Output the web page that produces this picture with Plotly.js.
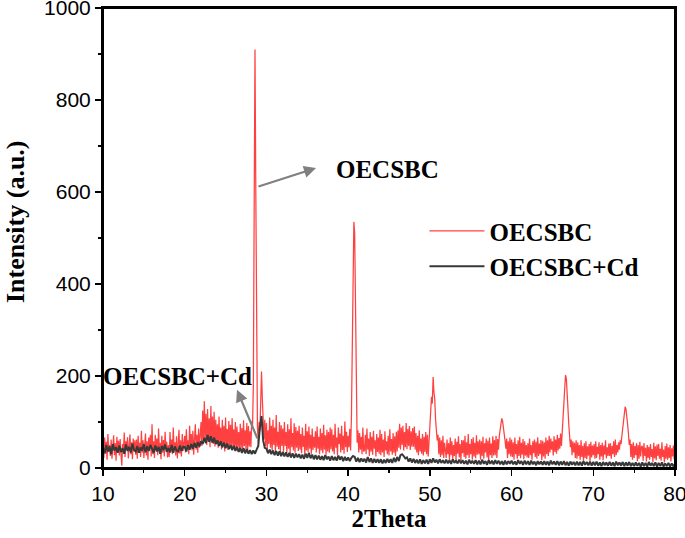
<!DOCTYPE html>
<html>
<head>
<meta charset="utf-8">
<script src="https://cdn.plot.ly/plotly-3.0.1.min.js"></script>
<style>html,body{margin:0;padding:0;background:#fff;}#chart{width:685px;height:538px;}</style>
</head>
<body>
<div id="chart"></div>
<script>
// 2Theta grids
const redStep = 0.1, redCount = 701;
const blackStep = 0.2, blackCount = 351;
const twoThetaRed = Array.from({length: redCount}, (_, i) => +(10 + redStep * i).toFixed(1));
const twoThetaBlack = Array.from({length: blackCount}, (_, i) => +(10 + blackStep * i).toFixed(1));

// OECSBC intensity (step 0.1, one row = 2 degrees)
const oecsbc = [
  48,22,66,31,57,18,74,35,50,26,62,20,45,71,28,54,16,68,38,59,
  27,63,30,5,52,34,77,24,58,40,67,21,49,73,30,56,19,64,36,60,
  29,62,20,70,38,55,24,81,33,60,22,51,75,27,58,18,66,41,72,25,
  95,30,58,22,72,40,64,28,86,36,55,19,70,33,61,25,79,42,57,23,
  50,24,78,34,62,30,88,40,56,27,69,21,53,83,31,60,25,74,37,65,
  70,34,84,42,60,30,92,46,74,38,81,29,66,95,40,72,33,86,44,77,
  100,48,125,55,145,62,118,50,128,57,108,45,135,60,112,52,122,47,105,58,
  95,44,112,52,88,40,105,48,92,36,110,46,85,39,102,50,94,42,108,45,
  84,42,100,38,90,46,78,35,96,44,87,37,104,48,82,40,98,36,91,47,
  80,45,102,90,180,560,910,600,210,90,55,100,80,140,210,150,95,62,105,48,
  98,40,82,52,110,44,92,38,105,50,88,36,115,46,79,41,100,35,93,48,
  86,36,100,48,78,34,95,42,84,30,108,45,76,38,97,33,89,44,81,37,
  92,40,74,32,88,46,70,28,96,38,80,35,90,42,72,31,86,39,68,44,
  80,34,90,42,68,30,86,38,76,32,94,40,71,29,83,36,78,33,88,41,
  84,36,72,30,96,44,66,28,88,52,75,34,92,39,70,31,101,45,79,35,
  70,45,85,38,110,260,470,535,510,300,120,55,82,34,76,40,68,30,88,37,
  38,72,30,86,40,64,26,78,36,68,29,81,42,60,25,74,35,66,31,83,
  28,74,34,62,24,80,38,58,30,70,27,84,36,63,29,76,33,69,26,79,
  36,82,44,96,40,88,50,92,38,78,45,98,41,85,48,91,39,80,46,87,
  46,90,40,76,34,70,28,82,36,64,31,74,27,68,35,78,30,72,25,66,
  80,110,155,140,198,165,150,105,88,60,72,30,66,24,60,28,70,22,55,31,
  22,62,30,54,18,66,28,58,20,50,26,64,19,57,31,69,23,52,17,61,
  32,60,24,70,20,56,28,74,22,52,30,63,18,67,25,55,21,71,29,58,
  30,62,18,58,26,68,20,54,34,64,23,59,17,66,28,53,22,69,27,61,
  28,70,22,63,40,70,85,98,108,102,90,75,60,42,64,22,58,30,66,25,
  62,24,56,18,66,30,52,20,60,26,68,21,55,29,63,19,58,27,50,23,
  54,22,64,28,50,18,58,32,62,24,57,20,67,26,53,30,61,17,59,25,
  56,20,66,30,60,26,70,34,64,40,58,27,69,35,62,31,72,38,65,42,
  75,48,80,110,150,185,202,195,170,130,95,70,45,62,28,58,34,55,22,60,
  20,56,26,50,18,60,24,48,16,54,22,58,19,47,27,52,15,57,23,49,
  28,52,20,58,22,46,30,56,18,50,25,55,17,49,29,60,21,45,26,53,
  26,54,20,48,30,58,24,62,28,50,34,56,40,60,52,70,85,105,120,133,
  128,115,95,75,50,62,24,52,18,56,22,48,28,54,15,50,20,57,25,46,
  48,16,54,26,44,14,50,22,46,18,52,24,41,13,55,21,47,17,51,26,
  52,20,42,16,56,24,40,12,48,20,53,18,45,22,50,14,43,25,49,19,
  44
];

// OECSBC+Cd intensity (step 0.2, one row = 2 degrees)
const oecsbcCd = [
  44,32,50,36,47,30,52,38,45,33,
  49,35,43,31,51,37,46,34,53,39,
  36,48,33,45,38,52,34,47,37,50,
  42,33,49,36,46,31,48,39,51,35,
  44,34,50,33,47,38,36,49,37,46,
  46,36,50,40,52,42,55,44,56,47,
  58,52,66,54,72,57,69,55,66,52,
  60,48,58,45,55,43,53,41,50,39,
  48,37,46,35,44,33,43,32,41,31,
  39,30,38,31,40,48,88,113,60,44,
  42,32,40,30,38,28,37,27,36,26,
  35,25,34,24,33,23,32,22,31,23,
  30,21,29,20,31,22,33,21,29,19,
  28,19,27,18,26,17,28,19,25,16,
  26,17,24,16,27,18,25,15,24,16,
  23,15,22,26,24,14,22,13,21,14,
  20,12,24,13,21,11,20,12,19,11,
  19,10,18,11,20,12,19,11,22,13,
  24,15,28,30,26,21,23,14,21,12,
  20,11,18,10,19,9,17,10,18,9,
  19,11,21,12,18,10,19,11,17,10,
  18,10,17,9,19,11,16,10,18,10,
  17,9,16,8,18,10,16,9,17,8,
  16,8,18,9,15,7,17,9,16,8,
  17,9,16,8,15,7,16,8,15,9,
  16,8,14,7,17,9,15,7,16,8,
  15,7,16,8,14,6,15,8,14,7,
  15,7,14,6,16,8,14,7,15,6,
  14,7,15,6,13,5,14,7,13,6,
  14,6,13,5,15,7,13,6,14,5,
  13,6,14,5,12,4,13,6,12,5,
  13,5,12,4,14,6,12,5,13,4,
  12,5,13,4,11,4,12,5,11,3,
  12,4,11,3,13,5,11,4,12,3,
  11,4,12,3,10,4,11,3,10,4,
  9
];

const seriesNames = ['OECSBC', 'OECSBC+Cd'];
const xTitle = '2Theta';
const yTitle = 'Intensity (a.u.)';

const serif = '"Liberation Serif", "Times New Roman", serif';
const sans = '"Liberation Sans", Arial, sans-serif';

const traces = [
  {x: twoThetaRed, y: oecsbc, name: seriesNames[0], type: 'scatter', mode: 'lines',
   line: {color: 'rgb(255,64,64)', width: 1.25}},
  {x: twoThetaBlack, y: oecsbcCd, name: seriesNames[1], type: 'scatter', mode: 'lines',
   line: {color: '#383838', width: 2}}
];

const axisCommon = {
  showgrid: false, zeroline: false, showline: true, linecolor: '#000', linewidth: 2,
  mirror: true, ticks: 'outside', ticklen: 6, tickwidth: 1.5, tickcolor: '#000',
  ticklabeloverflow: 'allow',
  tickfont: {family: sans, size: 21, color: '#000'},
  minor: {ticks: 'outside', ticklen: 3, tickwidth: 1.2, tickcolor: '#000'}
};

const layout = {
  width: 685, height: 538,
  margin: {l: 103, r: 10, t: 8, b: 70},
  paper_bgcolor: '#fff', plot_bgcolor: '#fff',
  showlegend: true,
  legend: {x: 0.562, y: 0.565, xanchor: 'left', yanchor: 'top', bgcolor: 'rgba(0,0,0,0)',
           itemwidth: 55,
           font: {family: serif, size: 25, color: '#000', weight: 'bold'}, tracegroupgap: 0},
  xaxis: Object.assign({}, axisCommon, {
    range: [10, 80], dtick: 10, tick0: 0,
    minor: Object.assign({}, axisCommon.minor, {dtick: 5}),
    title: {text: '<b>' + xTitle + '</b>', font: {family: serif, size: 25, color: '#000'}, standoff: 2}
  }),
  yaxis: Object.assign({}, axisCommon, {
    range: [0, 1000], dtick: 200, tick0: 0,
    minor: Object.assign({}, axisCommon.minor, {dtick: 100}),
    title: {text: '<b>\u00a0\u00a0\u00a0\u00a0\u00a0' + yTitle + '</b>', font: {family: serif, size: 26, color: '#000'}, standoff: 12}
  }),
  shapes: [
    {type: 'rect', xref: 'paper', yref: 'paper', x0: 0, x1: 1, y0: 0, y1: 1,
     line: {color: '#000000', width: 2}, fillcolor: 'rgba(0,0,0,0)', layer: 'above'}
  ],
  annotations: [
    {x: 36.07, y: 652, ax: 28.85, ay: 611, axref: 'x', ayref: 'y', xref: 'x', yref: 'y',
     text: '', showarrow: true, arrowhead: 2, arrowsize: 1.1, arrowwidth: 2.2, arrowcolor: '#808080'},
    {x: 44.76, y: 648, xref: 'x', yref: 'y', showarrow: false,
     text: '<b>' + seriesNames[0] + '</b>', font: {family: serif, size: 25, color: '#000'}},
    {x: 26.4, y: 170, ax: 28.97, ay: 61, axref: 'x', ayref: 'y', xref: 'x', yref: 'y',
     text: '', showarrow: true, arrowhead: 2, arrowsize: 1.1, arrowwidth: 2.2, arrowcolor: '#808080'},
    {x: 19.06, y: 200, xref: 'x', yref: 'y', showarrow: false,
     text: '<b>' + seriesNames[1] + '</b>', font: {family: serif, size: 25, color: '#000'}}
  ]
};

Plotly.newPlot('chart', traces, layout, {displayModeBar: false, staticPlot: true});
</script>
</body>
</html>
